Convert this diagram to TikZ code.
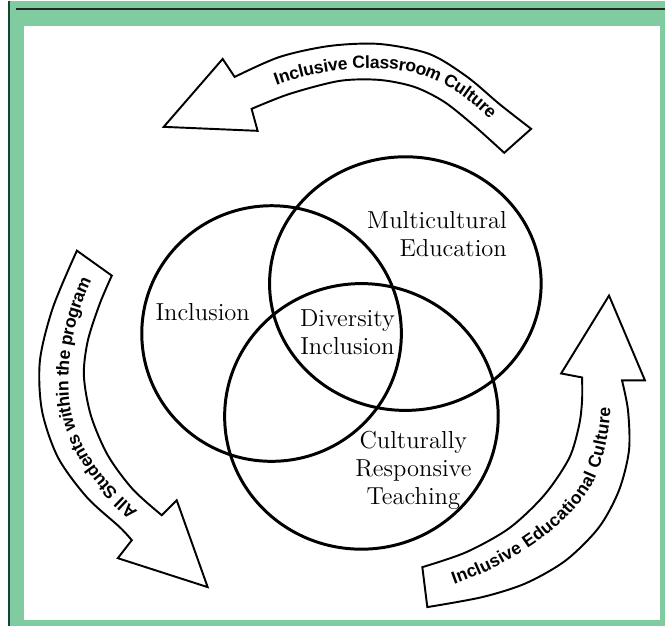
\documentclass[tikz,border=0pt]{standalone}
\usepackage{fontspec}
\newfontfamily\arrowfont{Liberation Sans}
\usetikzlibrary{decorations.text}

\definecolor{panelgreen}{RGB}{128,203,160}
\definecolor{edgegreen}{RGB}{20,72,46}

\tikzset{
  venn/.style={line width=1.7pt},
  vennlabel/.style={font=\fontsize{14}{16}\selectfont, align=center, inner sep=0pt},
  bigarrow/.style={draw, fill=white, line width=1.1pt, line join=miter},
  arrowtext/.style={decorate, decoration={text along path, text align=center, raise=-3.6pt}}
}
\newcommand{\arrowsize}{\arrowfont\bfseries\fontsize{10}{12}\selectfont}

\begin{document}
\begin{tikzpicture}[x=0.02cm, y=-0.02cm]
    % Frame and panel
    \fill[white] (0,0) rectangle (666,626);
    \fill[panelgreen] (10,0) rectangle (666,626);
    \draw[edgegreen, line width=1.2pt] (9,0) -- (9,626);
    \draw[black!85, line width=1.2pt] (16,8) -- (666,8);
    \fill[white] (24,25) rectangle (661,620);

    % The three circles
    \draw[venn] (272,333) ellipse (130 and 128);
    \draw[venn] (406,283) ellipse (136 and 127);
    \draw[venn] (362,416) ellipse (137 and 133);

    \node[vennlabel] (incl) at (203,312) {Inclusion};
    \node[vennlabel, anchor=east] (multi) at (508,233) {Multicultural\\\hfill Education};
    \node[vennlabel] (divers) at (348,332) {Diversity\\Inclusion};
    \node[vennlabel] (crt) at (414,470) {Culturally\\Responsive\\Teaching};

    % Arrow over the top
    \draw[bigarrow] (164,126) -- (223,58)
        -- plot[smooth] coordinates {(235,76) (280,56) (330,45) (380,43) (430,53) (468,76) (500,103) (532,128)}
        -- plot[smooth] coordinates {(505,152) (475,125) (445,101) (415,86) (380,79) (340,80) (290,93) (252,108)}
        -- (258,130) -- cycle;
    \path[arrowtext, decoration={text={|\arrowsize|Inclusive Classroom Culture}}]
        (243,92) .. controls (300,62) and (380,52) .. (430,70)
        .. controls (470,86) and (495,112) .. (518,140);

    % Arrow down the left side
    \draw[bigarrow] (208,587) -- (177,500)
        -- plot[smooth] coordinates {(162,515) (133,489) (108,455) (91,415) (84,375) (88,340) (100,303) (112,275)}
        -- plot[smooth] coordinates {(77,250) (53,307) (40,360) (42,410) (58,457) (87,497) (120,527) (132,540)}
        -- (118,558) -- cycle;
    \path[arrowtext, decoration={text={|\arrowsize|All Students within the program}}]
        (147,527) .. controls (110,495) and (70,460) .. (63,400)
        .. controls (58,350) and (75,290) .. (95,262);

    % Arrow up the right side
    \draw[bigarrow] (610,295) -- (646,380)
        -- plot[smooth] coordinates {(623,380) (629,410) (630,450) (620,490) (600,527) (567,560) (527,583) (483,597) (428,607)}
        -- plot[smooth] coordinates {(423,567) (467,552) (510,528) (545,495) (570,458) (580,425) (583,400) (583,377)}
        -- (562,373) -- cycle;
    \path[arrowtext, decoration={text={|\arrowsize|Inclusive Educational Culture}}]
        (425,587) .. controls (490,570) and (560,530) .. (588,480)
        .. controls (603,450) and (607,410) .. (605,378);
\end{tikzpicture}
\end{document}
